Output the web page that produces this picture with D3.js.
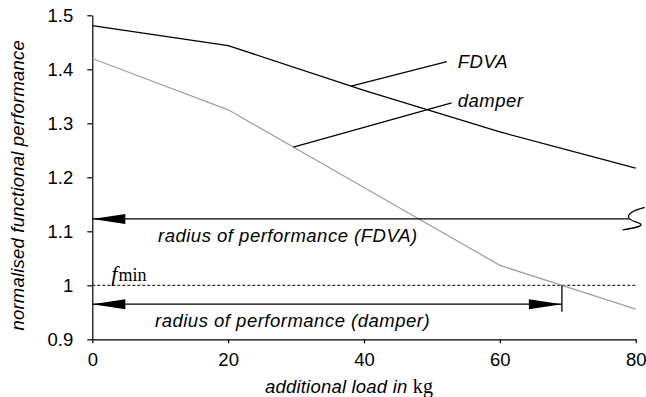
<!DOCTYPE html>
<html>
<head>
<meta charset="utf-8">
<script src="https://cdn.jsdelivr.net/npm/d3@7/dist/d3.min.js"></script>
<style>
  html, body { margin: 0; padding: 0; background: #fff; }
  svg { display: block; }
  .sans { font-family: "Liberation Sans", Arial, sans-serif; }
  .serif { font-family: "Liberation Serif", "Times New Roman", serif; }
</style>
</head>
<body>
<svg id="chart" width="646" height="397"></svg>
<script>
// Additional load (kg) and normalised functional performance per absorber type
const loads = [0, 20, 40, 60, 80];
const fdvaPerf = [1.481, 1.444, 1.361, 1.284, 1.217];
const damperPerf = [1.420, 1.325, 1.181, 1.037, 0.956];

const xTicks = [0, 20, 40, 60, 80];
const yTicks = [0.9, 1.0, 1.1, 1.2, 1.3, 1.4, 1.5];
const yTickLabels = ["0.9", "1", "1.1", "1.2", "1.3", "1.4", "1.5"];

// Minimum acceptable performance and the levels of the two radius arrows
const fMin = 1.0;
const fdvaRadiusLevel = 1.123;
const damperRadiusLevel = 0.965;

const svg = d3.select("#chart");
const plotLeft = 92.3, plotRight = 635.7, plotTop = 15.3, plotBottom = 339.3;
const labelSize = 18.5;

const x = d3.scaleLinear().domain([0, 80]).range([plotLeft, plotRight]);
const y = d3.scaleLinear().domain([0.9, 1.5]).range([plotBottom, plotTop]);

// Axes
const yAxis = svg.append("g").attr("transform", `translate(${plotLeft},0)`)
  .call(d3.axisLeft(y).tickValues(yTicks).tickSize(5).tickSizeOuter(0)
    .tickFormat((d, i) => yTickLabels[i]));
yAxis.select(".domain").attr("stroke", "#000").attr("stroke-width", 1.2);
yAxis.selectAll(".tick line").attr("stroke", "#000").attr("stroke-width", 1.2);
yAxis.selectAll(".tick text").attr("class", "sans").attr("font-size", labelSize)
  .attr("fill", "#000").attr("x", -19).attr("dy", "0.36em");

const xAxis = svg.append("g").attr("transform", `translate(0,${plotBottom})`)
  .call(d3.axisBottom(x).tickValues(xTicks).tickSize(4).tickSizeOuter(0));
xAxis.select(".domain").attr("stroke", "#000").attr("stroke-width", 1.2);
xAxis.selectAll(".tick text").attr("class", "sans").attr("font-size", labelSize)
  .attr("fill", "#000").attr("y", 14).attr("dy", "0.71em");
xAxis.selectAll(".tick line").attr("stroke", "#000").attr("stroke-width", 1.2);

// Axis titles
const xTitle = svg.append("text").attr("class", "sans").attr("font-size", labelSize)
  .attr("font-style", "italic").attr("x", 265).attr("y", 393).attr("letter-spacing", 0.2);
xTitle.append("tspan").text("additional load in ");
xTitle.append("tspan").attr("class", "serif").attr("font-style", "normal")
  .attr("font-size", 20).text("kg");

svg.append("text").attr("class", "sans").attr("font-size", labelSize)
  .attr("font-style", "italic").attr("text-anchor", "middle")
  .attr("transform", `translate(24,${(plotTop + plotBottom) / 2 + 8}) rotate(-90)`)
  .attr("letter-spacing", 0.2)
  .text("normalised functional performance");

// f_min threshold
svg.append("line")
  .attr("x1", x(0)).attr("x2", x(80)).attr("y1", y(fMin)).attr("y2", y(fMin))
  .attr("stroke", "#000").attr("stroke-width", 1).attr("stroke-dasharray", "3,2");

const fLabel = svg.append("text").attr("class", "serif").attr("x", x(2.8)).attr("y", y(fMin) - 4);
fLabel.append("tspan").attr("font-style", "italic").attr("font-size", 22).text("f");
fLabel.append("tspan").attr("font-size", 18).attr("dx", 1).text("min");

// Performance curves
const line = d3.line().x((d, i) => x(loads[i])).y(d => y(d));
svg.append("path").datum(damperPerf).attr("d", line)
  .attr("fill", "none").attr("stroke", "#a0a0a0").attr("stroke-width", 1.3);
svg.append("path").datum(fdvaPerf).attr("d", line)
  .attr("fill", "none").attr("stroke", "#000").attr("stroke-width", 1.3);

// Value on a curve at an arbitrary load (for leader lines and the crossing point)
function valueAt(series, load) {
  return d3.scaleLinear().domain(loads).range(series)(load);
}

// Leader lines and series labels
const leaders = [
  { series: fdvaPerf, from: 38.1, to: [52.2, 1.414], text: "FDVA", at: [53.8, 1.403] },
  { series: damperPerf, from: 29.6, to: [52.9, 1.338], text: "damper", at: [53.8, 1.3295] }
];
leaders.forEach(l => {
  svg.append("line")
    .attr("x1", x(l.from)).attr("y1", y(valueAt(l.series, l.from)))
    .attr("x2", x(l.to[0])).attr("y2", y(l.to[1]))
    .attr("stroke", "#000").attr("stroke-width", 1.3);
  svg.append("text").attr("class", "sans").attr("font-size", labelSize)
    .attr("font-style", "italic").attr("letter-spacing", 0.5)
    .attr("x", x(l.at[0])).attr("y", y(l.at[1])).text(l.text);
});

// Arrowhead drawn as a filled triangle pointing in direction dir (-1 left, +1 right)
function arrowHead(tipX, yy, dir) {
  const len = 33, half = 5;
  svg.append("path")
    .attr("d", `M${tipX},${yy}L${tipX - dir * len},${yy - half}L${tipX - dir * len},${yy + half}Z`)
    .attr("fill", "#000");
}

// Radius of performance, FDVA (extends past the chart, marked with a break)
const yF = y(fdvaRadiusLevel);
const breakX = x(80) - 6;
svg.append("line").attr("x1", x(0)).attr("x2", breakX).attr("y1", yF).attr("y2", yF)
  .attr("stroke", "#000").attr("stroke-width", 1.3);
arrowHead(x(0), yF, -1);
svg.append("path")
  .attr("d", `M${breakX + 15},${yF - 11.5} C${breakX - 6},${yF - 6} ${breakX - 4},${yF + 0} ${breakX + 6},${yF + 3}
              C${breakX + 16},${yF + 6} ${breakX + 12},${yF + 8} ${breakX - 7},${yF + 11}`)
  .attr("fill", "none").attr("stroke", "#000").attr("stroke-width", 1.3);
svg.append("text").attr("class", "sans").attr("font-size", labelSize).attr("font-style", "italic")
  .attr("letter-spacing", 0.5).attr("x", 158).attr("y", yF + 23)
  .text("radius of performance (FDVA)");

// Radius of performance, damper: from zero load to where the damper drops to f_min
let crossLoad = loads[loads.length - 1];
for (let i = 0; i < loads.length - 1; i++) {
  const a = damperPerf[i] - fMin, b = damperPerf[i + 1] - fMin;
  if (a >= 0 && b < 0) { crossLoad = loads[i] + (loads[i + 1] - loads[i]) * a / (a - b); break; }
}
const yD = y(damperRadiusLevel);
svg.append("line").attr("x1", x(0)).attr("x2", x(crossLoad)).attr("y1", yD).attr("y2", yD)
  .attr("stroke", "#000").attr("stroke-width", 1.3);
arrowHead(x(0), yD, -1);
arrowHead(x(crossLoad), yD, 1);
svg.append("line").attr("x1", x(crossLoad)).attr("x2", x(crossLoad))
  .attr("y1", y(fMin)).attr("y2", yD + 7.5)
  .attr("stroke", "#000").attr("stroke-width", 1.3);
svg.append("text").attr("class", "sans").attr("font-size", labelSize).attr("font-style", "italic")
  .attr("letter-spacing", 0.5).attr("x", 155).attr("y", yD + 23)
  .text("radius of performance (damper)");
</script>
</body>
</html>
